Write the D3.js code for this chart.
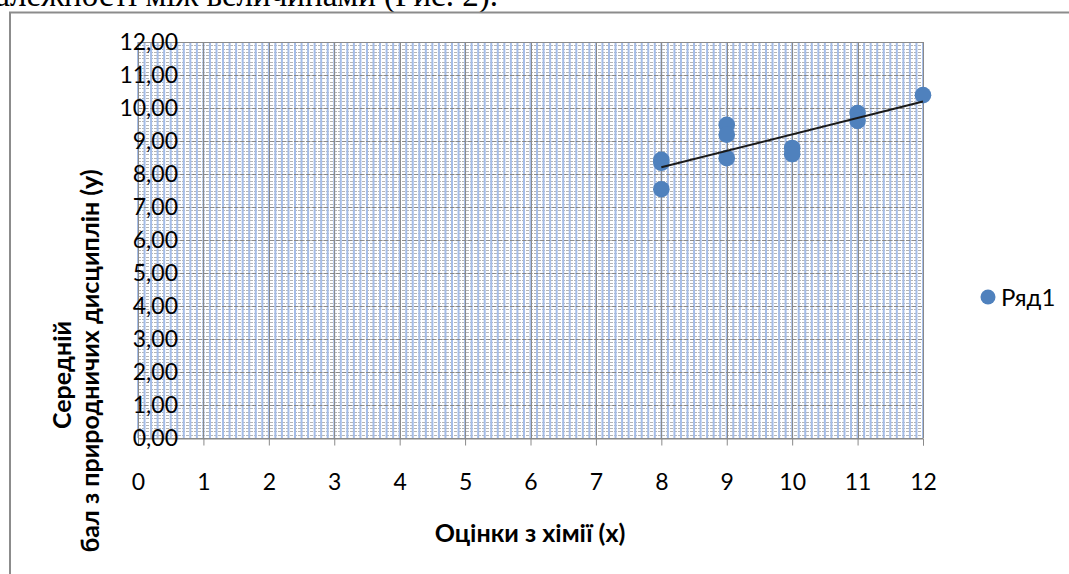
<!DOCTYPE html>
<html>
<head>
<meta charset="utf-8">
<script src="https://cdn.jsdelivr.net/npm/d3@7"></script>
<style>
  html, body { margin: 0; padding: 0; background: #ffffff; }
  svg { display: block; }
  text { font-family: Lato, "Open Sans", sans-serif; fill: #000; }
</style>
</head>
<body>
<svg id="chart" width="1069" height="574"></svg>
<script>
// Chemistry grade (x) against average score in natural sciences (y)
const chemistryGrades = [8, 8, 8, 9, 9, 9, 10, 10, 11, 11, 12];
const scienceAverages = [8.43, 8.34, 7.54, 9.49, 9.19, 8.48, 8.79, 8.60, 9.85, 9.61, 10.39];
const xTickValues = [0, 1, 2, 3, 4, 5, 6, 7, 8, 9, 10, 11, 12];
const yTickValues = [0, 1, 2, 3, 4, 5, 6, 7, 8, 9, 10, 11, 12];
const seriesName = "Ряд1";
const xTitle = "Оцінки з хімії (х)";
const yTitleLines = ["Середній", "бал з природничих дисциплін (у)"];
const captionText = "залежності між величинами (Рис. 2).";

const svg = d3.select("#chart");
const plot = { left: 138, right: 923, top: 42, bottom: 438 };

const x = d3.scaleLinear().domain([0, 12]).range([plot.left, plot.right]);
const y = d3.scaleLinear().domain([0, 12]).range([plot.bottom, plot.top]);

// caption line of the surrounding document, running past the page top
svg.append("text")
  .attr("x", 498).attr("y", 6)
  .attr("text-anchor", "end")
  .style("font-family", "'Liberation Serif', 'DejaVu Serif', serif")
  .style("font-size", "33px")
  .text(captionText);

// chart frame
svg.append("path")
  .attr("d", "M10,574 L10,12.5 L1069,12.5")
  .attr("fill", "none")
  .attr("stroke", "#8c8c8c")
  .attr("stroke-width", 2);

const grid = svg.append("g");

// minor horizontal gridlines
const yMinor = d3.range(0, 121).map(i => i / 10);
grid.selectAll("line.hminor").data(yMinor).join("line")
  .attr("class", "hminor")
  .attr("x1", plot.left).attr("x2", plot.right)
  .attr("y1", d => Math.round(y(d)) + 0.5).attr("y2", d => Math.round(y(d)) + 0.5)
  .attr("stroke", "#b4b4b4").attr("stroke-width", 1)
  .attr("stroke-dasharray", "3,1");

// minor vertical gridlines
const xMinor = d3.range(0, 121).map(i => i / 10);
grid.selectAll("line.vminor").data(xMinor).join("line")
  .attr("class", "vminor")
  .attr("x1", d => x(d)).attr("x2", d => x(d))
  .attr("y1", plot.top).attr("y2", plot.bottom)
  .attr("stroke", "#a5bde8").attr("stroke-width", 2);

// major horizontal gridlines
grid.selectAll("line.hmajor").data(yTickValues).join("line")
  .attr("class", "hmajor")
  .attr("x1", plot.left).attr("x2", plot.right)
  .attr("y1", d => Math.round(y(d)) + 0.5).attr("y2", d => Math.round(y(d)) + 0.5)
  .attr("stroke", "#8a8a8a").attr("stroke-width", 1)
  .attr("stroke-dasharray", d => d === 0 || d === 12 ? null : "4,2");

// major vertical gridlines
grid.selectAll("line.vmajor").data(xTickValues).join("line")
  .attr("class", "vmajor")
  .attr("x1", d => Math.round(x(d)) + 0.5).attr("x2", d => Math.round(x(d)) + 0.5)
  .attr("y1", plot.top).attr("y2", plot.bottom)
  .attr("stroke", "#8a8a8a").attr("stroke-width", 1);

// x axis
const xAxis = svg.append("g")
  .attr("transform", `translate(0,${plot.bottom + 0.5})`)
  .call(d3.axisBottom(x).tickValues(xTickValues).tickSize(7).tickPadding(28).tickFormat(d3.format("d")));
xAxis.select(".domain").attr("stroke", "#8a8a8a");
xAxis.selectAll(".tick line").attr("stroke", "#8a8a8a");
xAxis.selectAll(".tick text")
  .style("font-family", "Lato, sans-serif")
  .style("font-size", "23px")
  .attr("fill", "#000");

// y axis labels, drawn over the plot area
const fmtY = d => d3.format(".2f")(d).replace(".", ",");
const yAxis = svg.append("g")
  .attr("transform", `translate(178,0)`)
  .call(d3.axisLeft(y).tickValues(yTickValues).tickSize(0).tickPadding(0).tickFormat(fmtY));
yAxis.select(".domain").remove();
yAxis.selectAll(".tick text")
  .style("font-family", "Lato, sans-serif")
  .style("font-size", "23px")
  .attr("fill", "#000");

// points
svg.append("g").selectAll("circle").data(chemistryGrades.map((g, i) => [g, scienceAverages[i]])).join("circle")
  .attr("cx", d => x(d[0]))
  .attr("cy", d => y(d[1]))
  .attr("r", 8.3)
  .attr("fill", "#4f81bd");

// linear trendline (least squares)
const mx = d3.mean(chemistryGrades), my = d3.mean(scienceAverages);
const sxy = d3.sum(chemistryGrades, (g, i) => (g - mx) * (scienceAverages[i] - my));
const sxx = d3.sum(chemistryGrades, g => (g - mx) * (g - mx));
const slope = sxy / sxx, intercept = my - slope * mx;
const xExtent = d3.extent(chemistryGrades);
svg.append("line")
  .attr("x1", x(xExtent[0])).attr("y1", y(intercept + slope * xExtent[0]))
  .attr("x2", x(xExtent[1])).attr("y2", y(intercept + slope * xExtent[1]))
  .attr("stroke", "#1a1a1a").attr("stroke-width", 2);

// axis titles
svg.append("text")
  .attr("x", 530).attr("y", 542)
  .attr("text-anchor", "middle")
  .style("font-weight", "bold").style("font-size", "25px")
  .text(xTitle);

svg.append("text")
  .attr("transform", "translate(71,375) rotate(-90)")
  .attr("text-anchor", "middle")
  .style("font-weight", "bold").style("font-size", "25px")
  .text(yTitleLines[0]);
svg.append("text")
  .attr("transform", "translate(99,361) rotate(-90)")
  .attr("text-anchor", "middle")
  .style("font-weight", "bold").style("font-size", "25px")
  .text(yTitleLines[1]);

// legend
const legend = svg.append("g").attr("transform", "translate(988,297)");
legend.append("circle").attr("r", 7.5).attr("fill", "#4f81bd");
legend.append("text")
  .attr("x", 13).attr("y", 0).attr("dy", "0.36em")
  .style("font-size", "24px")
  .text(seriesName);
</script>
</body>
</html>
